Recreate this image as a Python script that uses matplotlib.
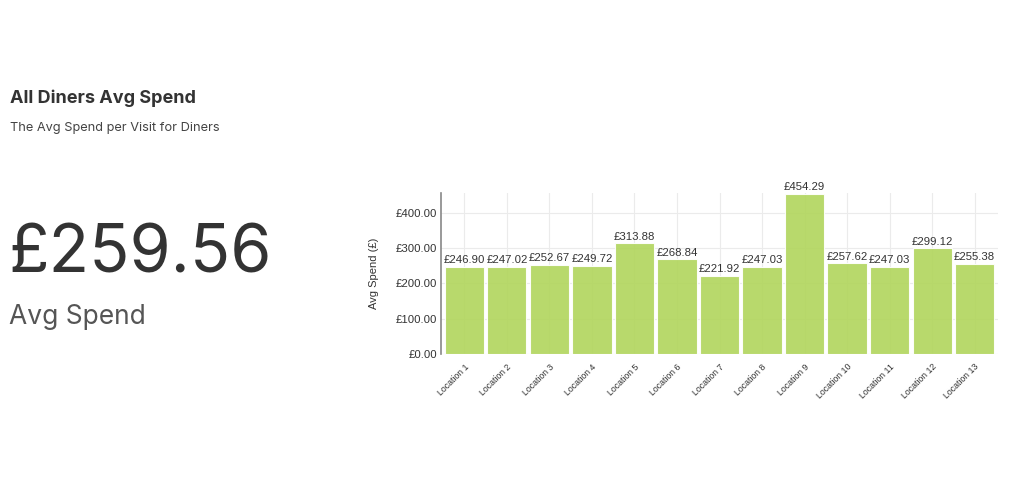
import matplotlib.pyplot as plt

locations = ['Location 1', 'Location 2', 'Location 3', 'Location 4', 'Location 5',
             'Location 6', 'Location 7', 'Location 8', 'Location 9', 'Location 10',
             'Location 11', 'Location 12', 'Location 13']
avg_spend = [246.90, 247.02, 252.67, 249.72, 313.88, 268.84, 221.92,
             247.03, 454.29, 257.62, 247.03, 299.12, 255.38]
y_ticks = [0, 100, 200, 300, 400]
overall_avg = 259.56

fig = plt.figure(figsize=(10.24, 4.88), dpi=100)
fig.patch.set_facecolor('white')

# left side header + big number
fig.text(10 / 1024, 1 - 98 / 488, 'All Diners Avg Spend', family='Inter', weight='bold',
         fontsize=13, color='#333333', va='center')
fig.text(10 / 1024, 1 - 128 / 488, 'The Avg Spend per Visit for Diners', family='Inter',
         fontsize=9.2, color='#444444', va='center')
fig.text(8 / 1024, 1 - 255 / 488, '£{:.2f}'.format(overall_avg), family='Inter', weight='normal',
         fontsize=47.8, color='#333333', va='center')
fig.text(9 / 1024, 1 - 317 / 488, 'Avg Spend', family='Inter', weight='normal',
         fontsize=19, color='#555555', va='center')

# bar chart
ax = fig.add_axes([441 / 1024, 1 - 354 / 488, 557 / 1024, 161 / 488])
x = range(len(locations))
bars = ax.bar(x, avg_spend, width=0.92, color='#b2d65f', alpha=0.92,
              edgecolor='white', linewidth=0.8, zorder=2)
for xi, v in zip(x, avg_spend):
    ax.text(xi, v + 4, '£{:.2f}'.format(v), ha='center', va='bottom',
            family='Liberation Sans', fontsize=8.2, color='#333333', zorder=3)

ax.set_xlim(-0.55, len(locations) - 0.45)
ax.set_ylim(0, 456)
ax.set_yticks(y_ticks)
ax.set_yticklabels(['£{:.2f}'.format(t) for t in y_ticks], family='Liberation Sans',
                   fontsize=8.2, color='#333333')
ax.set_xticks(list(x))
ax.set_xticklabels(locations, rotation=45, ha='right', rotation_mode='anchor',
                   family='Liberation Sans', fontsize=6.3, color='#333333')
ax.set_ylabel('Avg Spend (£)', family='Liberation Sans', fontsize=8, color='#333333',
              labelpad=12)

ax.grid(True, color='#ebebeb', linewidth=0.8, zorder=0)
ax.set_axisbelow(True)
ax.tick_params(axis='both', length=0, pad=3)
ax.tick_params(axis='x', pad=6)
for side in ['top', 'right', 'bottom']:
    ax.spines[side].set_visible(False)
ax.spines['left'].set_color('#888888')
ax.spines['left'].set_linewidth(1.2)

plt.savefig('out.png', dpi=100, facecolor='white')
